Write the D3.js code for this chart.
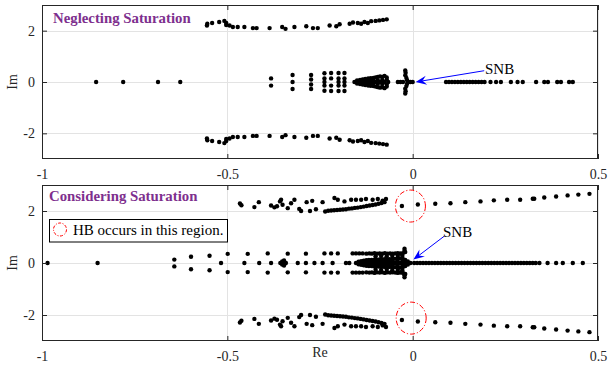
<!DOCTYPE html>
<html><head><meta charset="utf-8">
<script src="https://cdn.jsdelivr.net/npm/d3@7"></script>
<style>
body{margin:0;background:#fff;}
svg{display:block;font-family:"Liberation Serif","Times New Roman",serif;}
</style></head>
<body><svg id="c" width="608" height="367"></svg>
<script>
// ---- data (eigenvalues; complex ones are conjugate pairs: only Im >= 0 listed) ----
const xTicks = [-1, -0.5, 0, 0.5];
const yTicks = [-2, 0, 2];
const panelTitles = ["Neglecting Saturation", "Considering Saturation"];

// Neglecting saturation
const topBranch = [[-0.554,2.27],[-0.555,2.2],[-0.541,2.3],[-0.522,2.34],[-0.508,2.38],[-0.503,2.3],[-0.503,2.22],
 [-0.494,2.2],[-0.485,2.14],[-0.472,2.14],[-0.454,2.14],[-0.431,2.1],[-0.421,2.1],[-0.386,2.1],[-0.352,2.14],[-0.343,2.07],
 [-0.319,2.14],[-0.287,2.17],[-0.269,2.1],[-0.256,2.1],[-0.224,2.2],[-0.206,2.17],[-0.197,2.25],[-0.17,2.27],[-0.161,2.32],
 [-0.148,2.3],[-0.139,2.27],[-0.13,2.34],[-0.121,2.3],[-0.112,2.37],[-0.1,2.38],[-0.09,2.4],[-0.08,2.42],[-0.07,2.44]];
const topNear = [[-0.854,0],[-0.781,0],[-0.687,0],[-0.627,0],
 [-0.382,0.14],[-0.324,0.27],[-0.324,0],[-0.274,0.27],[-0.274,0.1],[-0.238,0.34],[-0.238,0.14],[-0.238,0],
 [-0.22,0.35],[-0.22,0.14],[-0.2,0.35],[-0.2,0.14],[-0.2,0],[-0.184,0.35],[-0.184,0.14],[-0.184,0],
 [-0.157,0],[-0.15,0],[-0.15,0.06],[-0.142,0],[-0.142,0.08],[-0.135,0],[-0.135,0.1],[-0.128,0],[-0.128,0.12],
 [-0.12,0.05],[-0.12,0.14],[-0.113,0],[-0.113,0.15],[-0.106,0.06],[-0.106,0.16],[-0.1,0],[-0.1,0.18],[-0.094,0.07],
 [-0.094,0.2],[-0.088,0],[-0.088,0.22],[-0.082,0.08],[-0.082,0.2],[-0.076,0],[-0.076,0.24],[-0.07,0.1],[-0.07,0.18],[-0.066,0],
 [-0.04,0],[-0.033,0],[-0.026,0],[-0.02,0.45],[-0.019,0.36],[-0.02,0.26],[-0.017,0.16],[-0.015,0.07],[-0.012,0],[-0.006,0],[0,0]];
const topRealRight = [0.09,0.098,0.106,0.114,0.122,0.13,0.138,0.146,0.154,0.162,0.17,0.178,0.186,0.194,0.21,0.225,0.238,
 0.265,0.283,0.297,0.333,0.355,0.365,0.39,0.4,0.422,0.432];

// Considering saturation
const botBranch = [[-0.466,2.29],[-0.462,2.22],[-0.427,2.15],[-0.415,2.34],[-0.382,2.21],[-0.373,2.14],[-0.366,2.18],
 [-0.358,2.37],[-0.355,2.43],[-0.351,2.24],[-0.337,2.11],[-0.328,2.3],[-0.319,2.43],[-0.306,2.08],[-0.301,2.0],[-0.286,2.34],
 [-0.277,2.0],[-0.271,2.39],[-0.261,2.07],[-0.243,2.34],[-0.236,1.98],
 [-0.228,2.01],[-0.22,2.02],[-0.212,2.03],[-0.204,2.04],[-0.196,2.05],[-0.188,2.06],[-0.18,2.07],[-0.172,2.09],[-0.164,2.1],
 [-0.156,2.12],[-0.148,2.13],[-0.14,2.15],[-0.132,2.17],[-0.124,2.19],[-0.116,2.21],[-0.108,2.23],[-0.1,2.25],[-0.092,2.28],
 [-0.084,2.31],[-0.076,2.34],
 [-0.211,2.5],[-0.202,2.43],[-0.184,2.37],[-0.166,2.43],[-0.153,2.43],[-0.139,2.43],[-0.126,2.46],[-0.108,2.43],[-0.094,2.46],
 [-0.081,2.4],[-0.072,2.46],
 [-0.029,2.19],[0.014,2.25],
 [0.061,2.28],[0.102,2.3],[0.142,2.34],[0.183,2.37],[0.219,2.41],[0.255,2.43],[0.29,2.43],[0.324,2.47],[0.328,2.47],
 [0.355,2.52],[0.387,2.56],[0.418,2.6],[0.447,2.63],[0.477,2.66]];
const botNear = [[-0.985,0],[-0.85,0],[-0.643,0.13],[-0.598,0.24],[-0.548,0.28],[-0.517,0],[-0.499,0.35],[-0.454,0],
 [-0.445,0.35],[-0.414,0],[-0.391,0.37],[-0.382,0],[-0.357,0],[-0.352,0.06],[-0.347,0.1],[-0.342,0],[-0.337,0.36],[-0.31,0],
 [-0.288,0.36],[-0.288,0],[-0.265,0],[-0.243,0],[-0.238,0.37],[-0.22,0.37],[-0.216,0],[-0.202,0.37],[-0.18,0],[-0.171,0],
 [-0.162,0.37],[-0.153,0.37],[-0.144,0.37],[-0.135,0.37],
 [-0.153,0],[-0.146,0],[-0.146,0.05],[-0.139,0],[-0.139,0.07],[-0.132,0],[-0.132,0.09],[-0.125,0.04],[-0.125,0.11],
 [-0.118,0],[-0.118,0.12],[-0.111,0.05],[-0.111,0.12],[-0.104,0],[-0.104,0.13],[-0.097,0.06],[-0.097,0.13],[-0.09,0],
 [-0.09,0.14],[-0.083,0.06],[-0.083,0.14],[-0.076,0],[-0.076,0.15],[-0.069,0.07],[-0.069,0.15],[-0.062,0],[-0.062,0.15],
 [-0.055,0.07],[-0.055,0.16],[-0.048,0],[-0.048,0.16],[-0.041,0.07],[-0.041,0.17],[-0.034,0],[-0.034,0.17],[-0.027,0.07],
 [-0.027,0.18],[-0.02,0],[-0.02,0.12],[-0.013,0],[-0.013,0.06],[-0.006,0],
 [-0.125,0.36],[-0.117,0.37],[-0.11,0.36],[-0.103,0.38],[-0.096,0.36],[-0.089,0.37],[-0.082,0.36],[-0.075,0.38],[-0.068,0.36],
 [-0.061,0.37],[-0.054,0.36],[-0.047,0.37],[-0.04,0.38],[-0.033,0.37],[-0.026,0.38],
 [-0.1,0.26],[-0.085,0.27],[-0.07,0.26],[-0.055,0.28],[-0.04,0.27],[-0.028,0.28],
 [-0.022,0.55],[-0.022,0.47],[-0.02,0.42]];
const botRealRight = [0.004,0.012,0.02,0.028,0.036,0.044,0.052,0.06,0.068,0.076,0.084,0.092,0.1,0.108,0.116,0.124,0.132,
 0.14,0.148,0.156,0.164,0.172,0.18,0.188,0.196,0.204,0.212,0.22,0.228,0.236,0.244,0.252,0.26,0.268,0.276,0.284,0.292,
 0.3,0.308,0.316,0.324,0.332,0.342,0.364,0.387,0.405,0.432,0.459];

// annotations (data coordinates)
const snbTop = {text:"SNB", from:[0.193,0.44], to:[0.008,0]};
const snbBot = {text:"SNB", from:[0.085,1.03], to:[0.002,0.13]};
const hbRegions = [{re:-0.006, im:2.19}, {re:-0.004, im:-2.12}];
const hbLabel = "HB occurs in this region.";

// ---- drawing ----
const svg = d3.select("#c");
const x = d3.scaleLinear().domain([-1,0.5]).range([42,598]);
const panels = [
  {y: d3.scaleLinear().domain([-3,3]).range([159,5]), pts:[topBranch, topNear], right: topRealRight, title: panelTitles[0], tx:53, ty:23},
  {y: d3.scaleLinear().domain([-3,3]).range([341,185]), pts:[botBranch, botNear], right: botRealRight, title: panelTitles[1], tx:49, ty:201}
];
const axisCol = "#262626";

function withConjugates(list){
  const out = [];
  list.forEach(([re,im]) => { out.push([re,im]); if (im !== 0) out.push([re,-im]); });
  return out;
}

panels.forEach((p, i) => {
  const y = p.y;
  const g = svg.append("g");
  const [x0,x1] = x.range(), [y0,y1] = [y.range()[1], y.range()[0]];
  g.append("rect").attr("x",x0).attr("y",y0).attr("width",x1-x0).attr("height",y1-y0).attr("fill","#fff");
  // grid
  g.selectAll(".gx").data(xTicks).enter().append("line")
    .attr("x1",d=>Math.round(x(d))+0.5).attr("x2",d=>Math.round(x(d))+0.5).attr("y1",y0).attr("y2",y1)
    .attr("stroke","#e3e3e3").attr("stroke-width",1);
  g.selectAll(".gy").data(yTicks).enter().append("line")
    .attr("y1",d=>Math.round(y(d))+0.5).attr("y2",d=>Math.round(y(d))+0.5).attr("x1",x0).attr("x2",x1)
    .attr("stroke","#e3e3e3").attr("stroke-width",1);

  // points
  const pts = withConjugates([].concat(...p.pts)).concat(p.right.map(r=>[r,0]));
  g.selectAll("circle.pt").data(pts).enter().append("circle")
    .attr("cx",d=>x(d[0])).attr("cy",d=>y(d[1])).attr("r",2.2).attr("fill","#000");

  // axes
  const fmt = d => String(d);
  const ax = g.append("g").attr("transform",`translate(0,${y1})`)
    .call(d3.axisBottom(x).tickValues(xTicks).tickSize(-5).tickPadding(10).tickFormat(fmt));
  const ay = g.append("g").attr("transform",`translate(${x0},0)`)
    .call(d3.axisLeft(y).tickValues(yTicks).tickSize(-5).tickPadding(7).tickFormat(fmt));
  const at = g.append("g").attr("transform",`translate(0,${y0})`)
    .call(d3.axisTop(x).tickValues(xTicks).tickSize(-5).tickFormat(""));
  const ar = g.append("g").attr("transform",`translate(${x1},0)`)
    .call(d3.axisRight(y).tickValues(yTicks).tickSize(-5).tickFormat(""));
  [ax,ay,at,ar].forEach(a => {
    a.select(".domain").remove();
    a.selectAll("line").attr("stroke",axisCol);
    a.selectAll("text").attr("fill",axisCol).style("font-size","14px").style("font-family","Liberation Serif");
  });
  g.append("rect").attr("x",x0+0.5).attr("y",y0+0.5).attr("width",x1-x0-1).attr("height",y1-y0-1)
    .attr("fill","none").attr("stroke",axisCol).attr("stroke-width",1);

  // y label
  g.append("text").attr("transform",`translate(17,${(y0+y1)/2}) rotate(-90)`).attr("text-anchor","middle")
    .attr("fill",axisCol).style("font-size","14px").text("Im");

  // title
  g.append("text").attr("x",p.tx).attr("y",p.ty).attr("fill","#7E2F8E").style("font-weight","bold")
    .style("font-size","14.8px").text(p.title);
});

// x label (bottom)
svg.append("text").attr("x",320).attr("y",356.5).attr("text-anchor","middle").attr("fill",axisCol)
  .style("font-size","14px").text("Re");

// SNB arrows
function arrow(ann, y, tx, ty){
  const [fx,fy] = [x(ann.from[0]), y(ann.from[1])];
  const [ex,ey] = [x(ann.to[0]), y(ann.to[1])];
  const dx = ex-fx, dy = ey-fy, L = Math.hypot(dx,dy);
  const ux = dx/L, uy = dy/L, nx = -uy, ny = ux;
  const hl = 11, hw = 4.5, back = 7;
  svg.append("line").attr("x1",fx).attr("y1",fy).attr("x2",ex-ux*back).attr("y2",ey-uy*back)
    .attr("stroke","#0000ff").attr("stroke-width",1);
  const pth = d3.path();
  pth.moveTo(ex,ey);
  pth.lineTo(ex-ux*hl+nx*hw, ey-uy*hl+ny*hw);
  pth.lineTo(ex-ux*back, ey-uy*back);
  pth.lineTo(ex-ux*hl-nx*hw, ey-uy*hl-ny*hw);
  pth.closePath();
  svg.append("path").attr("d",pth.toString()).attr("fill","#0000ff");
  svg.append("text").attr("x",tx).attr("y",ty).attr("fill","#000").style("font-size","15px").text(ann.text);
}
arrow(snbTop, panels[0].y, 485, 74);
arrow(snbBot, panels[1].y, 443, 237);

// HB ellipses
const yb = panels[1].y;
svg.selectAll("ellipse.hb").data(hbRegions).enter().append("ellipse")
  .attr("cx",d=>x(d.re)).attr("cy",d=>yb(d.im)).attr("rx",15).attr("ry",16)
  .attr("fill","none").attr("stroke","#ff0000").attr("stroke-width",1).attr("stroke-dasharray","5,2,1.2,2");

// legend
svg.append("rect").attr("x",49.5).attr("y",219.5).attr("width",178).attr("height",22.5)
  .attr("fill","#fff").attr("stroke","#000").attr("stroke-width",1);
svg.append("ellipse").attr("cx",60).attr("cy",229.5).attr("rx",6.5).attr("ry",6.5)
  .attr("fill","none").attr("stroke","#ff0000").attr("stroke-width",1).attr("stroke-dasharray","3,1.5,1,1.5");
svg.append("text").attr("x",73).attr("y",235).attr("fill","#000").style("font-size","15px").text(hbLabel);
</script></body></html>
